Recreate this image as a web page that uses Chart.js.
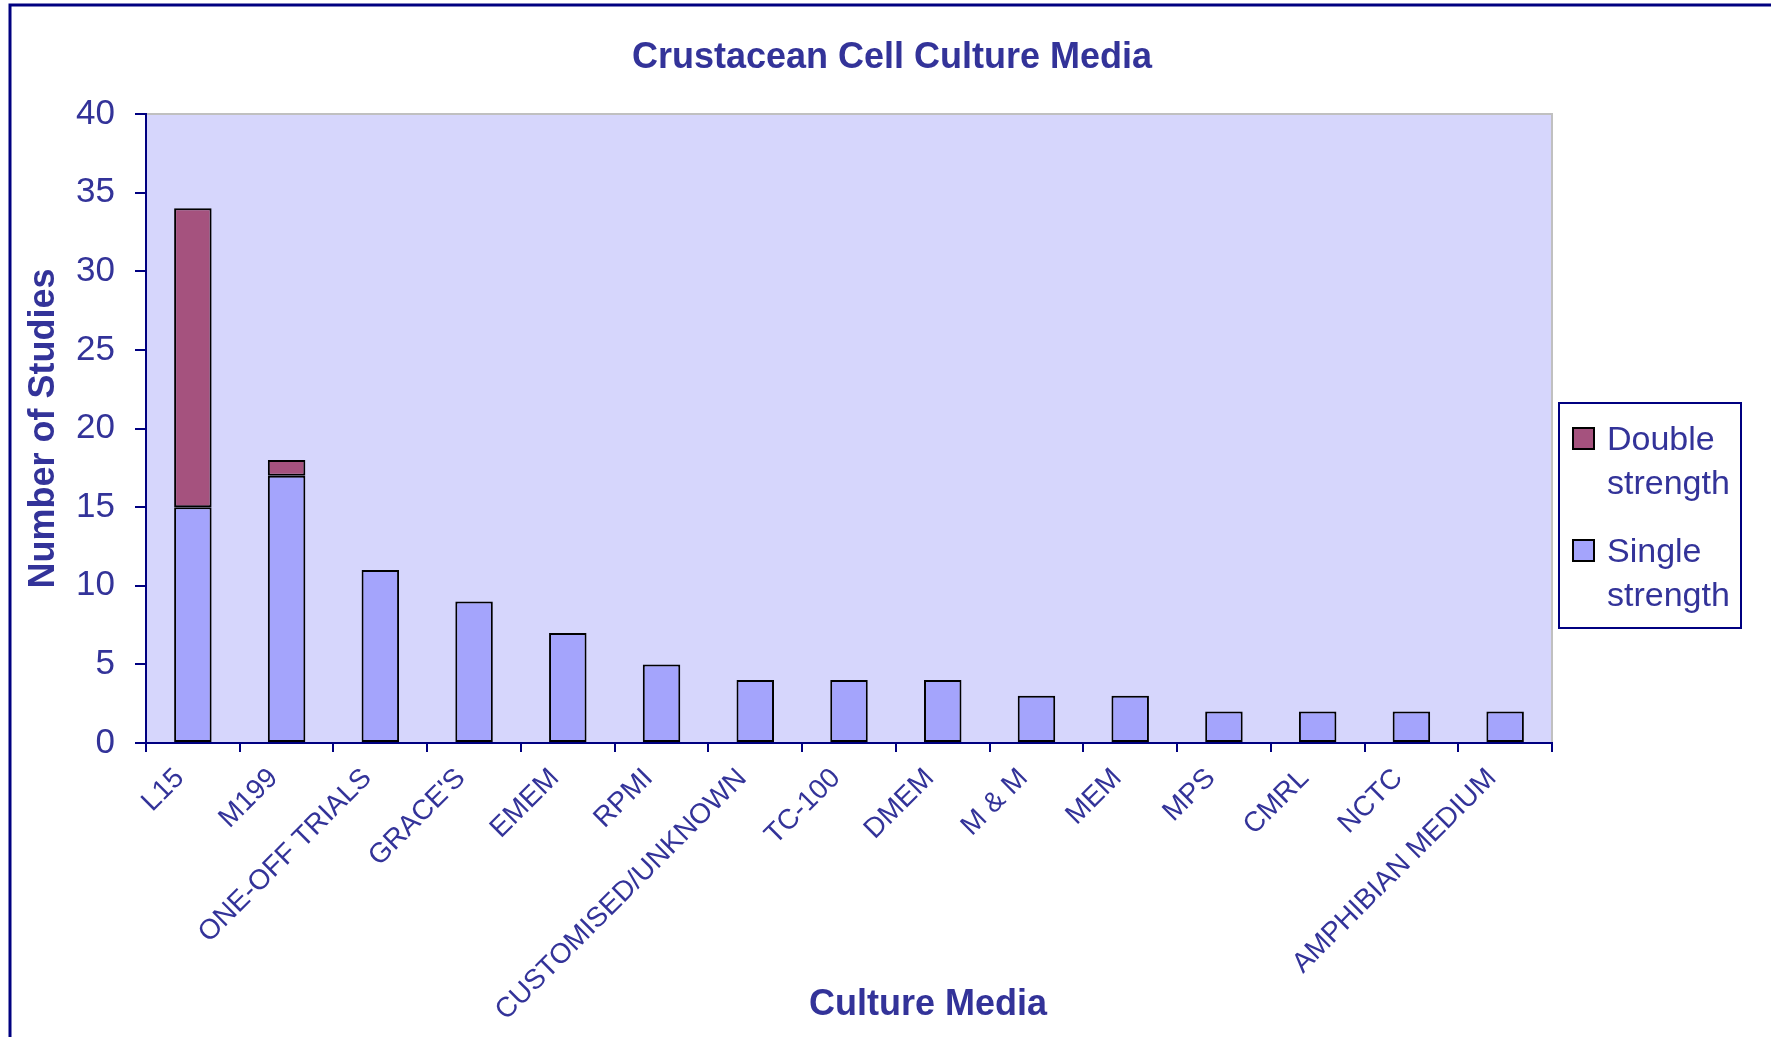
<!DOCTYPE html>
<html>
<head>
<meta charset="utf-8">
<script src="https://cdn.jsdelivr.net/npm/chart.js@4"></script>
<style>
  body { margin: 0; background: #fff; }
  canvas { display: block; }
</style>
</head>
<body>
<canvas id="chart" width="1771" height="1037"></canvas>
<script>
const media = ['L15', 'M199', 'ONE-OFF TRIALS', "GRACE'S", 'EMEM', 'RPMI', 'CUSTOMISED/UNKNOWN', 'TC-100', 'DMEM', 'M & M', 'MEM', 'MPS', 'CMRL', 'NCTC', 'AMPHIBIAN MEDIUM']
const singleStrength = [15, 17, 11, 9, 7, 5, 4, 4, 4, 3, 3, 2, 2, 2, 2]
const doubleStrength = [19, 1, 0, 0, 0, 0, 0, 0, 0, 0, 0, 0, 0, 0, 0]
const yTicks = [0, 5, 10, 15, 20, 25, 30, 35, 40]

const navy = '#000080'
const textColor = '#333399'
const fontFamily = '"Liberation Sans", Arial, sans-serif'

// plot area fill, outer frame, titles and legend drawn by hand
const frame = {
  id: 'frame',
  beforeDraw(chart) {
    const { ctx, chartArea: a } = chart
    ctx.save()
    ctx.fillStyle = '#d6d6fc'
    ctx.fillRect(a.left, a.top, a.right - a.left, a.bottom - a.top)
    ctx.strokeStyle = '#c0c0c0'
    ctx.lineWidth = 2
    ctx.beginPath()
    ctx.moveTo(a.left, a.top)
    ctx.lineTo(a.right, a.top)
    ctx.lineTo(a.right, a.bottom)
    ctx.stroke()
    ctx.strokeStyle = navy
    ctx.lineWidth = 3
    ctx.beginPath()
    ctx.moveTo(10, chart.height + 5)
    ctx.lineTo(10, 5)
    ctx.lineTo(chart.width + 5, 5)
    ctx.stroke()
    ctx.restore()
  },
  afterDraw(chart) {
    const { ctx, chartArea: a } = chart
    ctx.save()
    ctx.fillStyle = textColor
    ctx.font = `bold 36px ${fontFamily}`
    ctx.textAlign = 'center'
    ctx.textBaseline = 'alphabetic'
    ctx.fillText('Crustacean Cell Culture Media', 892, 68)
    ctx.textBaseline = 'middle'
    ctx.fillText('Culture Media', 928, 1005)

    // legend, reversed order like the original
    const bx = a.right + 7, by = 403, bw = 182, bh = 225
    ctx.fillStyle = '#fff'
    ctx.fillRect(bx, by, bw, bh)
    ctx.strokeStyle = navy
    ctx.lineWidth = 2
    ctx.strokeRect(bx, by, bw, bh)
    ctx.font = `34px ${fontFamily}`
    ctx.textAlign = 'left'
    ctx.textBaseline = 'alphabetic'
    const items = chart.data.datasets.slice().reverse()
    items.forEach((ds, i) => {
      const top = by + 25 + i * 112
      ctx.fillStyle = ds.backgroundColor
      ctx.fillRect(bx + 14, top, 21, 21)
      ctx.strokeStyle = '#000'
      ctx.lineWidth = 2
      ctx.strokeRect(bx + 14, top, 21, 21)
      ctx.fillStyle = textColor
      ds.label.split(' ').forEach((w, j) => {
        ctx.fillText(w, bx + 48, top + 22 + j * 44)
      })
    })
    ctx.restore()
  }
}

const chart = new Chart(document.getElementById('chart'), {
  type: 'bar',
  data: {
    labels: media,
    datasets: [{
      label: 'Single strength',
      data: singleStrength,
      backgroundColor: '#a4a4fc',
      borderColor: '#000',
      borderWidth: 2,
      borderSkipped: false
    }, {
      label: 'Double strength',
      data: doubleStrength,
      backgroundColor: '#a5527e',
      borderColor: '#000',
      borderWidth: c => (c.raw ? 2 : 0),
      borderSkipped: false
    }]
  },
  options: {
    responsive: false,
    animation: false,
    layout: { padding: { left: 0, right: 219, top: 114, bottom: 0 } },
    datasets: { bar: { categoryPercentage: 1, barPercentage: 0.4 } },
    plugins: {
      legend: { display: false },
      tooltip: { enabled: false }
    },
    scales: {
      x: {
        stacked: true,
        grid: { drawOnChartArea: false, offset: true, color: navy, lineWidth: 2, tickLength: 9 },
        border: { color: navy, width: 2 },
        ticks: {
          color: textColor,
          font: { family: fontFamily, size: 28 },
          minRotation: 45,
          maxRotation: 45,
          autoSkip: false,
          padding: 10,
          labelOffset: -13
        },
        afterFit: s => { s.height = 294 }
      },
      y: {
        stacked: true,
        min: 0,
        max: 40,
        afterBuildTicks: s => { s.ticks = yTicks.map(v => ({ value: v })) },
        grid: { drawOnChartArea: false, color: navy, lineWidth: 2, tickLength: 11 },
        border: { color: navy, width: 2 },
        ticks: {
          color: textColor,
          font: { family: fontFamily, size: 35 },
          padding: 20
        },
        title: {
          display: true,
          text: 'Number of Studies',
          color: textColor,
          font: { family: fontFamily, size: 36, weight: 'bold', lineHeight: 1.2 },
          padding: { top: 22, bottom: 0 }
        },
        afterFit: s => { s.width = 146 }
      }
    }
  },
  plugins: [frame]
})
</script>
</body>
</html>
